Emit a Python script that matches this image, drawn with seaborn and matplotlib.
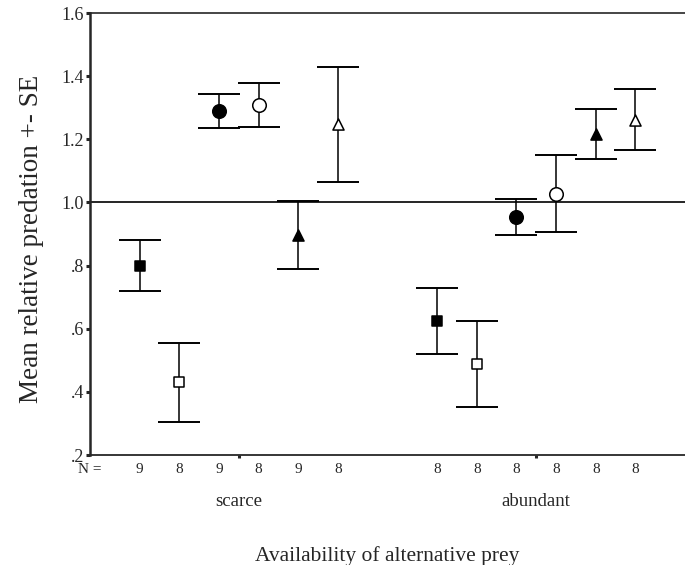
import matplotlib
matplotlib.use('Agg')
import matplotlib.pyplot as plt
import matplotlib.transforms as mtransforms
from matplotlib.ticker import FuncFormatter
import seaborn as sns
import numpy as np
import pandas as pd

# ── data ──────────────────────────────────────────────────────────────────
groups = ['scarce', 'abundant']
series = ['filled square', 'open square', 'filled circle', 'open circle',
          'filled triangle', 'open triangle']
scarce_mean = [0.80, 0.43, 1.29, 1.308, 0.897, 1.248]
scarce_se = [0.080, 0.124, 0.054, 0.070, 0.107, 0.182]
abundant_mean = [0.625, 0.488, 0.955, 1.027, 1.216, 1.262]
abundant_se = [0.105, 0.135, 0.057, 0.122, 0.079, 0.096]
scarce_n = [9, 8, 9, 8, 9, 8]
abundant_n = [8, 8, 8, 8, 8, 8]

# ── style ─────────────────────────────────────────────────────────────────
sns.set_style('ticks')
plt.rcParams['font.family'] = ['Liberation Serif', 'DejaVu Serif']

rows = []
for gi, (means, ses, ns) in enumerate([(scarce_mean, scarce_se, scarce_n),
                                        (abundant_mean, abundant_se, abundant_n)]):
    for si, name in enumerate(series):
        rows.append({'group': groups[gi], 'series': name, 'gi': gi, 'si': si,
                     'mean': means[si], 'se': ses[si], 'n': ns[si]})
df = pd.DataFrame(rows)
step = 0.1333
df['x'] = df['gi'] + (df['si'] - 2.5) * step

fig = plt.figure(figsize=(6.85, 5.65), dpi=100)
ax = fig.add_axes([90/685, 110/565, 595/685, 442/565])

marker_map = {'square': ('s', 52), 'circle': ('o', 95), 'triangle': ('^', 64)}

# error bars
ax.errorbar(df['x'], df['mean'], yerr=df['se'], fmt='none', ecolor='black',
            elinewidth=1.1, capsize=15, capthick=1.4, zorder=2)

# markers
for name in series:
    fill, shape = name.split()
    m, s = marker_map[shape]
    sub = df[df['series'] == name]
    sns.scatterplot(data=sub, x='x', y='mean', ax=ax, marker=m, s=s,
                    color='black' if fill == 'filled' else 'white',
                    edgecolor='black', linewidth=1.1, zorder=3, legend=False)

ax.axhline(1.0, color='black', lw=1.2, zorder=1)

ax.set_xlim(-0.5, 1.5)
ax.set_ylim(0.2, 1.6)
ax.set_yticks(np.arange(0.2, 1.61, 0.2))
ax.yaxis.set_major_formatter(FuncFormatter(
    lambda v, p: f'{v:.1f}'.lstrip('0') if v < 1 else f'{v:.1f}'))
ax.set_xticks([0, 1])
ax.set_xticklabels(groups, fontsize=13.5)
ax.tick_params(axis='y', direction='out', length=3, width=2.2, labelsize=13, pad=1.5)
ax.tick_params(axis='x', direction='out', length=2.5, width=2.2, pad=25)

ax.spines['left'].set_linewidth(1.8)
ax.spines['bottom'].set_linewidth(1.3)
ax.spines['top'].set_linewidth(1.2)
ax.spines['right'].set_visible(False)

ax.set_ylabel('Mean relative predation +- SE', fontsize=19.5)
ax.yaxis.set_label_coords(-0.077, 0.49)
ax.set_xlabel('Availability of alternative prey', fontsize=15.5)
ax.xaxis.set_label_coords(0.5, -0.205)

# N row
trans = mtransforms.blended_transform_factory(ax.transData, ax.transAxes)
for _, r in df.iterrows():
    ax.text(r['x'], -0.032, str(r['n']), transform=trans, ha='center',
            va='center', fontsize=11)
ax.text(-0.02, -0.032, 'N =', transform=ax.transAxes, ha='left',
        va='center', fontsize=11)

fig.savefig('out.png', dpi=100)
